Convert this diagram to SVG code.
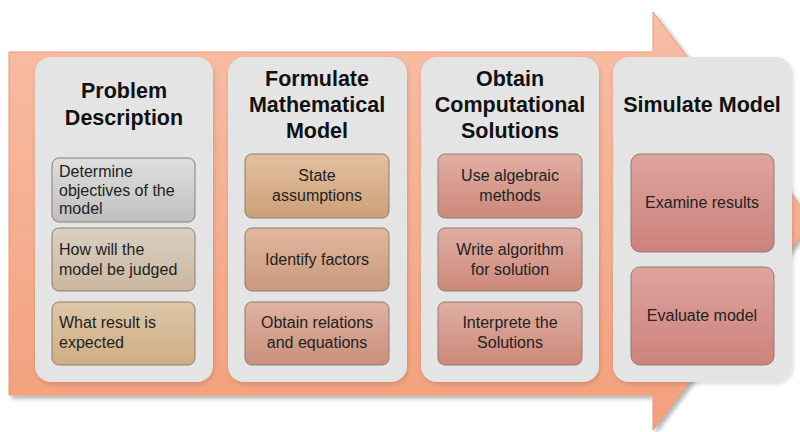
<svg xmlns="http://www.w3.org/2000/svg" width="800" height="432" viewBox="0 0 800 432">
<defs>
<linearGradient id="gArrow" x1="0" y1="0" x2="0" y2="1">
<stop offset="0" stop-color="#f7bea6"/>
<stop offset="1" stop-color="#f39f7c"/>
</linearGradient>
<linearGradient id="gGray" x1="0" y1="0" x2="0" y2="1"><stop offset="0" stop-color="#dedede"/><stop offset="1" stop-color="#bfbfbf"/></linearGradient>
<linearGradient id="gBeige" x1="0" y1="0" x2="0" y2="1"><stop offset="0" stop-color="#d9d0c3"/><stop offset="1" stop-color="#c9b79e"/></linearGradient>
<linearGradient id="gTan" x1="0" y1="0" x2="0" y2="1"><stop offset="0" stop-color="#dcc6a8"/><stop offset="1" stop-color="#d0ad82"/></linearGradient>
<linearGradient id="gOr1" x1="0" y1="0" x2="0" y2="1"><stop offset="0" stop-color="#e2c0a0"/><stop offset="1" stop-color="#cd9f78"/></linearGradient>
<linearGradient id="gOr2" x1="0" y1="0" x2="0" y2="1"><stop offset="0" stop-color="#e0b79e"/><stop offset="1" stop-color="#cb987c"/></linearGradient>
<linearGradient id="gOr3" x1="0" y1="0" x2="0" y2="1"><stop offset="0" stop-color="#dfb2a0"/><stop offset="1" stop-color="#c98f7c"/></linearGradient>
<linearGradient id="gRed1" x1="0" y1="0" x2="0" y2="1"><stop offset="0" stop-color="#e0aea2"/><stop offset="1" stop-color="#cc887a"/></linearGradient>
<linearGradient id="gRed2" x1="0" y1="0" x2="0" y2="1"><stop offset="0" stop-color="#dfa49e"/><stop offset="1" stop-color="#cd817c"/></linearGradient>
<filter id="shadow" x="-5%" y="-5%" width="115%" height="115%">
<feDropShadow dx="3" dy="3" stdDeviation="2" flood-color="#000" flood-opacity="0.3"/>
</filter>
<filter id="pshadow" x="-5%" y="-5%" width="115%" height="115%">
<feDropShadow dx="1" dy="2" stdDeviation="2" flood-color="#000" flood-opacity="0.15"/>
</filter>
</defs>
<style>
.panel{fill:#e4e4e4;}
.box{stroke:#8c7c70;stroke-width:1;}
.title{font-family:"Liberation Sans",Arial,sans-serif;font-weight:bold;font-size:21.5px;fill:#111;text-anchor:middle;}
.t{font-family:"Liberation Sans",Arial,sans-serif;font-size:16px;fill:#222;}
.c{text-anchor:middle;}
</style>
<rect width="800" height="432" fill="#ffffff"/>
<g id="arrow">
<polygon points="9,52 653,52 653,12 812,221 653,430 653,395 9,395" fill="url(#gArrow)" stroke="#e99a78" stroke-width="1" filter="url(#shadow)"/>
</g>
<g id="connectors"></g>
<g id="panel1">
<rect class="panel" x="35" y="57" width="178" height="325" rx="16" filter="url(#pshadow)"/>
<text class="title" x="124" y="98">Problem</text>
<text class="title" x="124" y="125">Description</text>
<g id="p1b1"><rect class="box" x="52" y="158" width="143" height="64" rx="7" fill="url(#gGray)"/>
<text class="t" x="59" y="177">Determine</text><text class="t" x="59" y="196">objectives of the</text><text class="t" x="59" y="214">model</text></g>
<g id="p1b2"><rect class="box" x="52" y="228" width="143" height="63" rx="7" fill="url(#gBeige)"/>
<text class="t" x="59" y="255">How will the</text><text class="t" x="59" y="275">model be judged</text></g>
<g id="p1b3"><rect class="box" x="52" y="302" width="143" height="63" rx="7" fill="url(#gTan)"/>
<text class="t" x="59" y="328">What result is</text><text class="t" x="59" y="348">expected</text></g>
</g>
<g id="panel2">
<rect class="panel" x="228" y="57" width="179" height="325" rx="16" filter="url(#pshadow)"/>
<text class="title" x="317" y="86">Formulate</text>
<text class="title" x="317" y="112">Mathematical</text>
<text class="title" x="317" y="138">Model</text>
<g id="p2b1"><rect class="box" x="245" y="154" width="144" height="64" rx="7" fill="url(#gOr1)"/>
<text class="t c" x="317" y="181">State</text><text class="t c" x="317" y="201">assumptions</text></g>
<g id="p2b2"><rect class="box" x="245" y="228" width="144" height="63" rx="7" fill="url(#gOr2)"/>
<text class="t c" x="317" y="265">Identify factors</text></g>
<g id="p2b3"><rect class="box" x="245" y="302" width="144" height="63" rx="7" fill="url(#gOr3)"/>
<text class="t c" x="317" y="328">Obtain relations</text><text class="t c" x="317" y="348">and equations</text></g>
</g>
<g id="panel3">
<rect class="panel" x="421" y="57" width="178" height="325" rx="16" filter="url(#pshadow)"/>
<text class="title" x="510" y="86">Obtain</text>
<text class="title" x="510" y="112">Computational</text>
<text class="title" x="510" y="138">Solutions</text>
<g id="p3b1"><rect class="box" x="438" y="154" width="144" height="64" rx="7" fill="url(#gRed1)"/>
<text class="t c" x="510" y="181">Use algebraic</text><text class="t c" x="510" y="201">methods</text></g>
<g id="p3b2"><rect class="box" x="438" y="228" width="144" height="63" rx="7" fill="url(#gRed1)"/>
<text class="t c" x="510" y="255">Write algorithm</text><text class="t c" x="510" y="275">for solution</text></g>
<g id="p3b3"><rect class="box" x="438" y="302" width="144" height="63" rx="7" fill="url(#gRed1)"/>
<text class="t c" x="510" y="328">Interprete the</text><text class="t c" x="510" y="348">Solutions</text></g>
</g>
<g id="panel4">
<rect class="panel" x="613" y="57" width="179" height="325" rx="16" filter="url(#pshadow)"/>
<text class="title" x="702" y="112">Simulate Model</text>
<g id="p4b1"><rect class="box" x="631" y="154" width="143" height="98" rx="9" fill="url(#gRed2)"/>
<text class="t c" x="702" y="208">Examine results</text></g>
<g id="p4b2"><rect class="box" x="631" y="267" width="143" height="98" rx="9" fill="url(#gRed2)"/>
<text class="t c" x="702" y="321">Evaluate model</text></g>
</g>
</svg>
